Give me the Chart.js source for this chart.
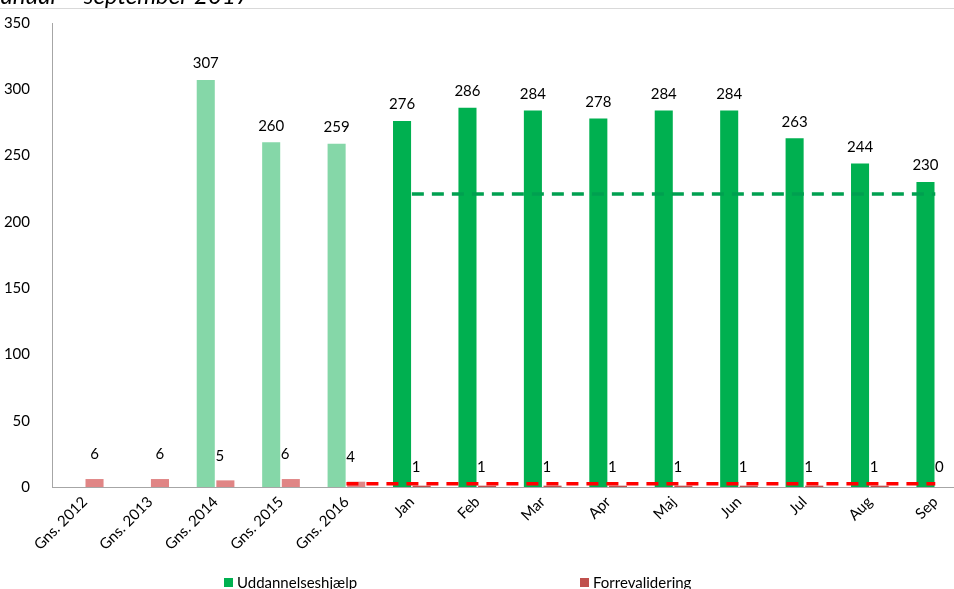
<!DOCTYPE html>
<html><head><meta charset="utf-8">
<script src="https://cdn.jsdelivr.net/npm/chart.js@4"></script>
<style>html,body{margin:0;padding:0;overflow:hidden;background:#fff;width:954px;height:589px}
#w{position:absolute;left:0;top:0;width:990px;height:600px}</style></head>
<body><div id="w"><canvas id="c"></canvas></div>
<script>
const categories=['Gns. 2012','Gns. 2013','Gns. 2014','Gns. 2015','Gns. 2016','Jan','Feb','Mar','Apr','Maj','Jun','Jul','Aug','Sep'];
const uddannelse=[null,null,307,260,259,276,286,284,278,284,284,263,244,230];
const forrevalidering=[6,6,5,6,4,1,1,1,1,1,1,1,1,0];
const uddTarget=[null,null,null,null,null,221,221,221,221,221,221,221,221,221];
const forTarget=[null,null,null,null,2.5,2.5,2.5,2.5,2.5,2.5,2.5,2.5,2.5,2.5];
const yTicks=[0,50,100,150,200,250,300,350];
const F="Lato, 'Open Sans', sans-serif";
const greenCols=categories.map((c,i)=>i<5?'#85d7a8':'#00b050');
const redCols=categories.map((c,i)=>i<5?'#e08585':'#c0504d');
const deco={id:'deco',afterDraw(ch){const x=ch.ctx;x.save();
 x.strokeStyle='#d9d9d9';x.lineWidth=1;x.beginPath();x.moveTo(0,8.5);x.lineTo(990,8.5);x.stroke();
 x.fillStyle='#000';x.font='italic 24px '+F;x.textBaseline='alphabetic';x.fillText('januar – september 2017',-5,4);
 x.font='15px '+F;x.textAlign='center';x.textBaseline='bottom';
 ch.getDatasetMeta(0).data.forEach((b,i)=>{if(uddannelse[i]!=null)x.fillText(String(uddannelse[i]),b.x,b.y-9);});
 ch.getDatasetMeta(1).data.forEach((b,i)=>{x.textAlign=i<2?'center':'left';
  const xx=i<2?b.x:b.x-10; x.fillText(String(forrevalidering[i]),xx,ch.scales.y.getPixelForValue(forrevalidering[i]<3?1:forrevalidering[i])-(i<5?17:11));});
 x.textAlign='left';x.textBaseline='middle';x.font='15px '+F;
 x.fillStyle='#00b050';x.fillRect(224,578,9,9);x.fillStyle='#000';x.fillText('Uddannelseshjælp',237,583);
 x.fillStyle='#c0504d';x.fillRect(580,578,9,9);x.fillStyle='#000';x.fillText('Forrevalidering',593,583);
 x.restore();}};
new Chart(document.getElementById('c'),{
 data:{labels:categories,datasets:[
  {type:'bar',label:'Uddannelseshjælp',data:uddannelse,backgroundColor:greenCols,categoryPercentage:0.6,barPercentage:0.92,order:2},
  {type:'bar',label:'Forrevalidering',data:forrevalidering,backgroundColor:redCols,categoryPercentage:0.6,barPercentage:0.92,order:2},
  {type:'line',data:uddTarget,borderColor:'#00a050',borderDash:[12,8],borderWidth:3.5,pointRadius:0,order:1},
  {type:'line',data:forTarget,borderColor:'#ff0000',borderDash:[12,8],borderWidth:3.5,pointRadius:0,order:1}]},
 options:{responsive:true,maintainAspectRatio:false,animation:false,
  layout:{padding:{top:14,right:22,left:0,bottom:0}},
  plugins:{legend:{display:false},tooltip:{enabled:false}},
  scales:{
   x:{offset:true,grid:{display:false,drawTicks:false},border:{color:'#a6a6a6'},
      ticks:{color:'#000',font:{family:F,size:15},maxRotation:45,minRotation:45,padding:6},
      afterFit(s){s.height=113;}},
   y:{min:0,max:350,grid:{display:false},border:{color:'#a6a6a6'},
      afterBuildTicks(s){s.ticks=yTicks.map(v=>({value:v}));},
      ticks:{color:'#000',font:{family:F,size:15},padding:14},
      afterFit(s){s.width=52;}}}},
 plugins:[deco]});
</script></body></html>
